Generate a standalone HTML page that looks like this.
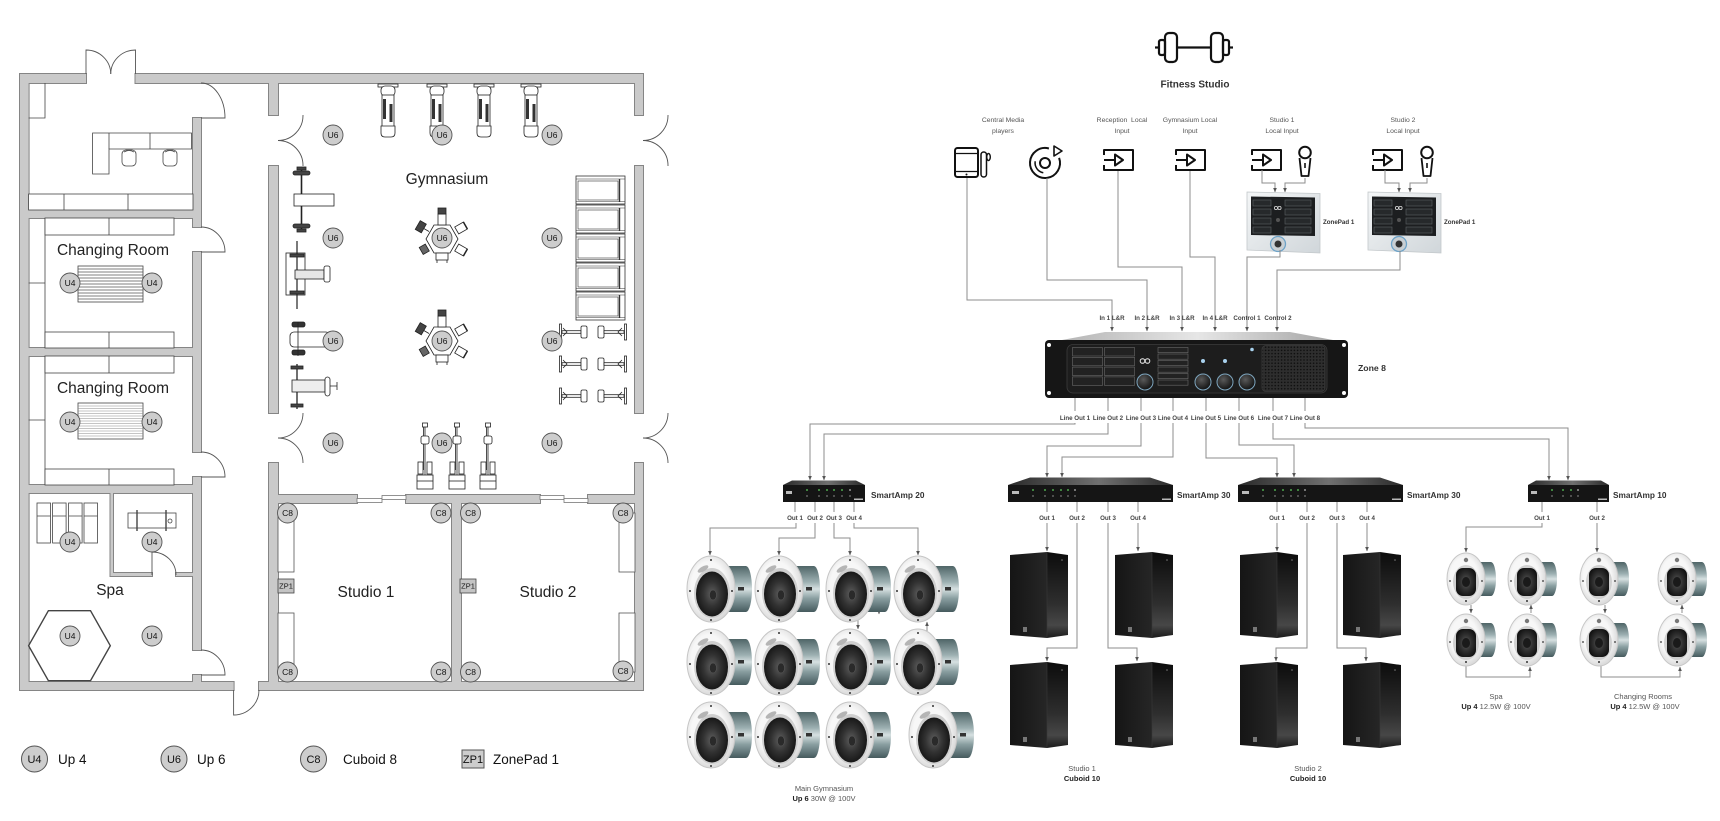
<!DOCTYPE html>
<html><head><meta charset="utf-8"><title>Fitness Studio</title>
<style>
html,body{margin:0;padding:0;background:#fff;width:1720px;height:821px;overflow:hidden}
svg{display:block}
text{font-family:"Liberation Sans",Arial,sans-serif}
</style></head><body>
<svg xmlns="http://www.w3.org/2000/svg" width="1720" height="821" viewBox="0 0 1720 821">
<defs>
<marker id="ah" viewBox="0 0 6 6" refX="5.5" refY="3" markerWidth="4.5" markerHeight="4.5" orient="auto" markerUnits="userSpaceOnUse"><path d="M0,0.5 L6,3 L0,5.5z" fill="#555"/></marker>
<linearGradient id="can" x1="0" y1="0" x2="0" y2="1"><stop offset="0" stop-color="#4f6567"/><stop offset="0.35" stop-color="#9db0b2"/><stop offset="0.5" stop-color="#d6e0e1"/><stop offset="0.7" stop-color="#8ba0a2"/><stop offset="1" stop-color="#465b5e"/></linearGradient>
<radialGradient id="face" cx="0.45" cy="0.45" r="0.6"><stop offset="0.6" stop-color="#f7f7f7"/><stop offset="1" stop-color="#d2d2d2"/></radialGradient>
<radialGradient id="cone" cx="0.5" cy="0.5" r="0.55"><stop offset="0" stop-color="#5e5e5e"/><stop offset="0.5" stop-color="#323232"/><stop offset="1" stop-color="#121212"/></radialGradient>
<linearGradient id="side" x1="0" y1="0" x2="0" y2="1"><stop offset="0" stop-color="#0c0c0c"/><stop offset="0.6" stop-color="#2e2e2e"/><stop offset="0.85" stop-color="#474747"/><stop offset="1" stop-color="#1a1a1a"/></linearGradient>
<linearGradient id="front" x1="0" y1="0" x2="1" y2="0"><stop offset="0" stop-color="#151515"/><stop offset="1" stop-color="#262626"/></linearGradient>
<linearGradient id="lid" x1="0" y1="0" x2="1" y2="0"><stop offset="0" stop-color="#b5b5b5"/><stop offset="0.5" stop-color="#e6e6e6"/><stop offset="1" stop-color="#a5a5a5"/></linearGradient>
<linearGradient id="lid2" x1="0" y1="0" x2="1" y2="0"><stop offset="0" stop-color="#2a2a2a"/><stop offset="0.55" stop-color="#707070"/><stop offset="1" stop-color="#2a2a2a"/></linearGradient>
<radialGradient id="knob" cx="0.4" cy="0.35" r="0.7"><stop offset="0" stop-color="#5a5a5a"/><stop offset="1" stop-color="#0d0d0d"/></radialGradient>
<linearGradient id="zp" x1="0" y1="0" x2="1" y2="1"><stop offset="0" stop-color="#f4f6f7"/><stop offset="1" stop-color="#d0d6da"/></linearGradient>
<pattern id="grill" width="3.2" height="3.2" patternUnits="userSpaceOnUse"><rect width="3.2" height="3.2" fill="#2e2e2e"/><circle cx="1.6" cy="1.6" r="0.8" fill="#0e0e0e"/></pattern>

<g id="bs">
 <path d="M6,-23 H35 A6,23 0 0 1 35,23 H6 Z" fill="url(#can)"/>
 <ellipse rx="24" ry="33" fill="url(#face)" stroke="#c6c6c6" stroke-width="1"/>
 <ellipse cx="1" cy="4" rx="18" ry="25" fill="#cfcfcf"/>
 <ellipse cx="1" cy="5" rx="16" ry="22.5" fill="url(#cone)"/>
 <ellipse cx="2" cy="6" rx="3.5" ry="5" fill="#2a2a2a" stroke="#5a5a5a" stroke-width="0.5"/>
 <ellipse cx="-8" cy="-20" rx="6" ry="2.5" fill="#b5b5b5" transform="rotate(-30 -8 -20)"/>
 <circle cx="0" cy="-29" r="1" fill="#333"/><circle cx="0" cy="31" r="1" fill="#333"/>
 <circle cx="-21" cy="2" r="1" fill="#333"/><circle cx="21" cy="2" r="1" fill="#333"/>
 <rect x="27" y="-2" width="6" height="3.5" fill="#333"/>
</g>
<g id="ss">
 <path d="M4,-17 H25 A5,17 0 0 1 25,17 H4 Z" fill="url(#can)"/>
 <ellipse rx="19" ry="26" fill="url(#face)" stroke="#c6c6c6" stroke-width="1"/>
 <ellipse cx="0" cy="3" rx="13" ry="17" fill="#d0d0d0"/>
 <rect x="-10" y="-11" width="20" height="28" rx="7" fill="url(#cone)"/>
 <ellipse cx="0" cy="3" rx="4" ry="5" fill="#1a1a1a"/>
 <circle cx="0" cy="-19" r="2.2" fill="#777"/>
 <circle cx="0" cy="22" r="1" fill="#333"/><circle cx="-16" cy="2" r="0.9" fill="#333"/><circle cx="16" cy="2" r="0.9" fill="#333"/>
</g>
<g id="cab">
 <polygon points="0,3 37,0 37,86 0,83" fill="url(#front)"/>
 <polygon points="37,0 58,3 58,83 37,86" fill="url(#side)"/>
 <line x1="37" y1="0" x2="37" y2="86" stroke="#3a3a3a" stroke-width="0.6"/>
 <rect x="13" y="75" width="4" height="5" fill="#777"/>
 <circle cx="52" cy="8" r="0.8" fill="#777"/>
</g>
<g id="zpd">
 <polygon points="0,0 73,1.5 73,61 0,58" fill="url(#zp)" stroke="#c3c8cb" stroke-width="0.8"/>
 <polygon points="4,4.5 68,5.5 68,44 4,43" fill="#1c1e20"/>
 <g fill="#26292b" stroke="#5c6166" stroke-width="0.6">
  <rect x="6" y="8" width="18" height="6"/><rect x="6" y="17" width="18" height="6"/><rect x="6" y="26" width="18" height="6"/><rect x="6" y="35" width="18" height="6"/>
  <rect x="38" y="8" width="26" height="6"/><rect x="38" y="17" width="26" height="6"/><rect x="38" y="26" width="26" height="6"/><rect x="38" y="35" width="26" height="6"/>
 </g>
 <circle cx="29" cy="16" r="1.6" fill="none" stroke="#ddd" stroke-width="0.8"/><circle cx="32.5" cy="16" r="1.6" fill="none" stroke="#ddd" stroke-width="0.8"/>
 <circle cx="31" cy="28" r="2" fill="#555"/>
 <circle cx="31" cy="52" r="7.5" fill="#c9cfd3" stroke="#6ea3c8" stroke-width="1.3"/>
 <circle cx="31" cy="52" r="3.5" fill="#333"/>
</g>
<g id="tm" fill="#fff" stroke="#222" stroke-width="0.8">
 <rect x="-10" y="84" width="20" height="3"/>
 <rect x="-7" y="86" width="14" height="10" rx="4"/>
 <rect x="-6" y="95" width="12" height="32"/>
 <rect x="-5" y="99" width="3" height="20" fill="#333" stroke="none"/>
 <rect x="1.5" y="104" width="3" height="18" fill="#333" stroke="none"/>
 <path d="M-7,126 h14 v7 q0,4 -4,4 h-6 q-4,0 -4,-4z"/>
</g>
<g id="rk">
 <rect x="576" y="0" width="49" height="28" fill="#fff" stroke="#333" stroke-width="0.8"/>
 <line x1="576" y1="3" x2="625" y2="3" stroke="#333" stroke-width="0.6"/>
 <rect x="578" y="5" width="40" height="19" fill="none" stroke="#333" stroke-width="0.6"/>
 <line x1="619.5" y1="3" x2="619.5" y2="26" stroke="#333" stroke-width="1.4"/>
 <line x1="576" y1="25.5" x2="625" y2="25.5" stroke="#333" stroke-width="0.6"/>
</g>
<g id="pe" fill="#fff" stroke="#222" stroke-width="0.8">
 <rect x="559.5" y="-8" width="2" height="16"/>
 <rect x="562" y="-1.3" width="19" height="2.6"/>
 <rect x="581" y="-6" width="6" height="12" rx="1.5"/>
 <rect x="598" y="-6" width="6" height="12" rx="1.5"/>
 <rect x="604" y="-1.3" width="20" height="2.6"/>
 <rect x="624.5" y="-8" width="2" height="16"/>
 <path d="M563,-4 l4,4 l-4,4 M622,-4 l-4,4 l4,4" fill="none"/>
</g>
<g id="bm" fill="#fff" stroke="#222" stroke-width="0.8">
 <rect x="-2.5" y="423" width="5" height="4"/>
 <line x1="0" y1="427" x2="0" y2="476"/>
 <line x1="-1.5" y1="427" x2="-1.5" y2="470"/>
 <rect x="-4" y="436" width="8" height="8" rx="2"/>
 <rect x="-7" y="462" width="5" height="12"/>
 <rect x="2" y="462" width="5" height="12"/>
 <rect x="-8" y="475" width="16" height="14"/>
 <line x1="-8" y1="481" x2="8" y2="481"/>
</g>
<g id="hx" stroke="#222" stroke-width="0.8" fill="#fff">
 <polygon points="-16,0 -8,-14 8,-14 16,0 8,14 -8,14"/>
 <rect x="-4" y="-25" width="8" height="11"/>
 <rect x="-4" y="-31" width="8" height="6" fill="#444"/>
 <g transform="rotate(60)"><rect x="-4" y="-27" width="8" height="10"/><line x1="-4" y1="-27" x2="4" y2="-27" stroke-width="1.5"/></g>
 <g transform="rotate(120)"><rect x="-4" y="-27" width="8" height="10"/><line x1="-4" y1="-27" x2="4" y2="-27" stroke-width="1.5"/></g>
 <g transform="rotate(-60)"><rect x="-5" y="-28" width="10" height="7" fill="#444"/><line x1="0" y1="-21" x2="0" y2="-15"/></g>
 <g transform="rotate(-120)"><rect x="-4" y="-24" width="8" height="7" fill="#666"/></g>
 <rect x="-6" y="14" width="12" height="7"/>
 <line x1="-5" y1="21" x2="-5" y2="24"/><line x1="5" y1="21" x2="5" y2="24"/>
</g>
<g id="walls">
 <rect x="20" y="74" width="66" height="9"/>
 <rect x="135.5" y="74" width="507.5" height="9"/>
 <rect x="20" y="74" width="8.6" height="616"/>
 <rect x="20" y="682" width="213.6" height="8"/>
 <rect x="259" y="682" width="384" height="8"/>
 <rect x="635" y="74" width="8" height="41"/>
 <rect x="635" y="166" width="8" height="247"/>
 <rect x="635" y="463" width="8" height="227"/>
 <rect x="193" y="118" width="8" height="109"/>
 <rect x="193" y="252" width="8" height="200"/>
 <rect x="193" y="477" width="8" height="173"/>
 <rect x="193" y="675" width="8" height="8"/>
 <rect x="28" y="210" width="166" height="8"/>
 <rect x="28" y="348" width="166" height="8"/>
 <rect x="28" y="485" width="166" height="8"/>
 <rect x="269" y="83" width="9" height="32"/>
 <rect x="269" y="166" width="9" height="247"/>
 <rect x="269" y="463" width="9" height="220"/>
 <rect x="277" y="495" width="80" height="8"/>
 <rect x="406" y="495" width="134" height="8"/>
 <rect x="588" y="495" width="48" height="8"/>
 <rect x="452" y="502" width="9" height="181"/>
 <rect x="110.5" y="493" width="2.5" height="83"/>
 <rect x="110.5" y="573" width="41.5" height="3"/>
 <rect x="176" y="573" width="18" height="3"/>
</g>
</defs>

<rect width="1720" height="821" fill="#fff"/>

<!-- ================= FLOOR PLAN ================= -->
<use href="#walls" fill="#858585" stroke="#858585" stroke-width="2"/>
<use href="#walls" fill="#cacaca"/>

<g fill="#fff" stroke="#777" stroke-width="0.8">
 <rect x="357" y="498.5" width="25" height="4"/><rect x="382" y="495.5" width="24" height="4"/>
 <rect x="540" y="495.5" width="24" height="4"/><rect x="564" y="498.5" width="24" height="4"/>
</g>

<g fill="none" stroke="#555" stroke-width="0.9">
 <path d="M86,74 V50 A24.75,24 0 0 1 110.75,74"/>
 <path d="M135.5,74 V50 A24.75,24 0 0 0 110.75,74"/>
 <path d="M201,118 H225 A24,35 0 0 0 201,83"/>
 <path d="M201,252 H225 A24,25 0 0 0 201,227"/>
 <path d="M201,477 H225 A24,25 0 0 0 201,452"/>
 <path d="M201,675 H225 A24,25 0 0 0 201,650"/>
 <path d="M233.6,690 V715 A25.4,25 0 0 0 259,690"/>
 <path d="M303,115 A25,25 0 0 1 278,140.5 A25,25 0 0 1 303,166"/>
 <path d="M303,413 A25,25 0 0 1 278,438 A25,25 0 0 1 303,463"/>
 <path d="M668,115 A25,25 0 0 1 643,140.5 A25,25 0 0 1 668,166"/>
 <path d="M668,413 A25,25 0 0 1 643,438 A25,25 0 0 1 668,463"/>
 <path d="M152,552 V575 M152,552 A24,23 0 0 1 176,575"/>
</g>

<g fill="#fff" stroke="#444" stroke-width="0.8">
 <path d="M45,83 V118 H28.6" fill="none"/>
 <path d="M92.6,133 H191.5 V149 H109 V174 H92.6 Z"/>
 <line x1="109" y1="133" x2="109" y2="149"/><line x1="150" y1="133" x2="150" y2="149"/>
 <rect x="122" y="150" width="14" height="16" rx="4"/><path d="M124,152 q5,-3 10,0" fill="none"/>
 <rect x="163" y="150" width="14" height="16" rx="4"/><path d="M165,152 q5,-3 10,0" fill="none"/>
 <rect x="28.6" y="194" width="164.4" height="16"/>
 <line x1="64" y1="194" x2="64" y2="210"/><line x1="128" y1="194" x2="128" y2="210"/>
</g>

<g fill="#fff" stroke="#444" stroke-width="0.8">
 <path d="M45,218 V348 M28.6,283 H45 M45,356 V485 M28.6,420 H45" fill="none"/>
 <rect x="45" y="218" width="129" height="17"/><line x1="109" y1="218" x2="109" y2="235"/>
 <rect x="45" y="332" width="129" height="16"/><line x1="109" y1="332" x2="109" y2="348"/>
 <rect x="45" y="356" width="129" height="17"/><line x1="109" y1="356" x2="109" y2="373"/>
 <rect x="45" y="469" width="129" height="16"/><line x1="109" y1="469" x2="109" y2="485"/>
 <rect x="78" y="266" width="65" height="36"/>
 <rect x="78" y="403" width="65" height="36"/>
</g>
<g stroke="#555" stroke-width="0.7">
 <path d="M78,269 H143 M78,272 H143 M78,275 H143 M78,278 H143 M78,281 H143 M78,284 H143 M78,287 H143 M78,290 H143 M78,293 H143 M78,296 H143 M78,299 H143"/>
</g>
<g stroke="#8a8a8a" stroke-width="0.6">
 <path d="M78,406 H143 M78,408.5 H143 M78,411 H143 M78,413.5 H143 M78,416 H143 M78,418.5 H143 M78,421 H143 M78,423.5 H143 M78,426 H143 M78,428.5 H143 M78,431 H143 M78,433.5 H143 M78,436 H143"/>
</g>
<text x="113" y="255" font-size="15.5" text-anchor="middle" fill="#222">Changing Room</text>
<text x="113" y="393" font-size="15.5" text-anchor="middle" fill="#222">Changing Room</text>

<g fill="#fff" stroke="#444" stroke-width="0.8">
 <rect x="37" y="503" width="13.5" height="40"/><rect x="52.6" y="503" width="13.5" height="40"/>
 <rect x="68.6" y="503" width="13.5" height="40"/><rect x="84" y="503" width="13.5" height="40"/>
 <path d="M37,516 H50.5 M52.6,516 H66 M68.6,516 H82 M84,516 H97.5" fill="none"/>
 <rect x="128" y="513" width="48" height="15"/>
 <path d="M137,510 V531 M166,510 V531" fill="none" stroke-width="1.4"/>
 <circle cx="170" cy="521" r="2"/>
</g>
<polygon points="28.6,645.7 48.4,610.7 90.5,610.7 110.3,645.7 90.5,680.7 48.4,680.7" fill="none" stroke="#444" stroke-width="1.4"/>
<text x="110" y="595" font-size="15.5" text-anchor="middle" fill="#222">Spa</text>

<use href="#tm" transform="translate(388,0)"/>
<use href="#tm" transform="translate(437,0)"/>
<use href="#tm" transform="translate(484,0)"/>
<use href="#tm" transform="translate(531,0)"/>
<use href="#rk" transform="translate(0,176)"/>
<use href="#rk" transform="translate(0,205)"/>
<use href="#rk" transform="translate(0,234)"/>
<use href="#rk" transform="translate(0,263)"/>
<use href="#rk" transform="translate(0,292)"/>
<use href="#pe" transform="translate(0,332)"/>
<use href="#pe" transform="translate(0,364)"/>
<use href="#pe" transform="translate(0,396)"/>
<use href="#bm" transform="translate(425,0)"/>
<use href="#bm" transform="translate(457,0)"/>
<use href="#bm" transform="translate(488,0)"/>
<use href="#hx" transform="translate(442,239)"/>
<use href="#hx" transform="translate(442,341)"/>
<g stroke="#222" stroke-width="0.8" fill="#fff">
 <line x1="301.5" y1="168" x2="301.5" y2="231" stroke-width="1.6"/>
 <rect x="293" y="171" width="17" height="4" rx="2" fill="#444"/><rect x="297" y="167" width="9" height="3" fill="#444"/>
 <rect x="293" y="224" width="17" height="4" rx="2" fill="#444"/><rect x="297" y="229" width="9" height="3" fill="#444"/>
 <rect x="294" y="194" width="40" height="12"/>
 <line x1="297" y1="241" x2="297" y2="309" stroke-width="1.2"/>
 <rect x="286" y="253" width="19" height="42" fill="none"/>
 <rect x="290" y="254" width="14" height="3" fill="#444"/><rect x="290" y="291" width="14" height="3" fill="#444"/>
 <rect x="295" y="270" width="29" height="9" fill="#e6e6e6"/>
 <rect x="324" y="266" width="6" height="16" rx="2"/>
 <rect x="290" y="332" width="40" height="15" rx="4"/>
 <rect x="292" y="322" width="13" height="5" rx="2" fill="#333"/><rect x="292" y="350" width="13" height="5" rx="2" fill="#333"/>
 <line x1="298" y1="322" x2="298" y2="356"/>
 <line x1="297" y1="364" x2="297" y2="409" stroke-width="1.3"/>
 <rect x="291" y="366" width="12" height="3" fill="#444"/><rect x="291" y="404" width="12" height="3" fill="#444"/>
 <rect x="292" y="380" width="33" height="12" fill="#eee"/>
 <rect x="325" y="377" width="5" height="19" rx="2.5"/>
 <path d="M330,386 H337 M337,382 V390" fill="none"/>
</g>
<text x="447" y="184" font-size="15.5" text-anchor="middle" fill="#222">Gymnasium</text>

<g fill="#fff" stroke="#555" stroke-width="0.8">
 <rect x="278" y="513" width="16" height="59"/><rect x="278" y="613" width="16" height="59"/>
 <rect x="619" y="513" width="16" height="59"/><rect x="619" y="613" width="16" height="59"/>
</g>
<g fill="#c4c4c4" stroke="#444" stroke-width="0.8">
 <rect x="278" y="579" width="16" height="14"/><rect x="460" y="579" width="16" height="14"/>
</g>
<g font-size="7.5" text-anchor="middle" fill="#111"><text x="286" y="588.5">ZP1</text><text x="468" y="588.5">ZP1</text></g>
<text x="366" y="597" font-size="15.5" text-anchor="middle" fill="#222">Studio 1</text>
<text x="548" y="597" font-size="15.5" text-anchor="middle" fill="#222">Studio 2</text>

<g fill="#cdcdcd" stroke="#555" stroke-width="0.9">
 <circle cx="333" cy="135" r="10"/><circle cx="442" cy="135" r="10"/><circle cx="552" cy="135" r="10"/>
 <circle cx="333" cy="238" r="10"/><circle cx="442" cy="238" r="10"/><circle cx="552" cy="238" r="10"/>
 <circle cx="333" cy="341" r="10"/><circle cx="442" cy="341" r="10"/><circle cx="552" cy="341" r="10"/>
 <circle cx="333" cy="443" r="10"/><circle cx="442" cy="443" r="10"/><circle cx="552" cy="443" r="10"/>
 <circle cx="70" cy="283" r="10"/><circle cx="152" cy="283" r="10"/>
 <circle cx="70" cy="422" r="10"/><circle cx="152" cy="422" r="10"/>
 <circle cx="70" cy="542" r="10"/><circle cx="152" cy="542" r="10"/>
 <circle cx="70" cy="636" r="10"/><circle cx="152" cy="636" r="10"/>
 <circle cx="287.5" cy="513" r="10"/><circle cx="441" cy="513" r="10"/>
 <circle cx="287.5" cy="672" r="10"/><circle cx="441" cy="672" r="10"/>
 <circle cx="470.5" cy="513" r="10"/><circle cx="623" cy="513" r="10"/>
 <circle cx="470.5" cy="672" r="10"/><circle cx="623" cy="671" r="10"/>
</g>
<g font-size="8.5" text-anchor="middle" fill="#111">
 <text x="333" y="138">U6</text><text x="442" y="138">U6</text><text x="552" y="138">U6</text>
 <text x="333" y="241">U6</text><text x="442" y="241">U6</text><text x="552" y="241">U6</text>
 <text x="333" y="344">U6</text><text x="442" y="344">U6</text><text x="552" y="344">U6</text>
 <text x="333" y="446">U6</text><text x="442" y="446">U6</text><text x="552" y="446">U6</text>
 <text x="70" y="286">U4</text><text x="152" y="286">U4</text>
 <text x="70" y="425">U4</text><text x="152" y="425">U4</text>
 <text x="70" y="545">U4</text><text x="152" y="545">U4</text>
 <text x="70" y="639">U4</text><text x="152" y="639">U4</text>
 <text x="287.5" y="516">C8</text><text x="441" y="516">C8</text>
 <text x="287.5" y="675">C8</text><text x="441" y="675">C8</text>
 <text x="470.5" y="516">C8</text><text x="623" y="516">C8</text>
 <text x="470.5" y="675">C8</text><text x="623" y="674">C8</text>
</g>

<g fill="#cdcdcd" stroke="#555" stroke-width="1">
 <circle cx="34.5" cy="759" r="13"/><circle cx="174" cy="759" r="13"/><circle cx="313.5" cy="759" r="13"/>
 <rect x="462" y="750" width="22" height="18"/>
</g>
<g font-size="11" text-anchor="middle" fill="#111">
 <text x="34.5" y="763">U4</text><text x="174" y="763">U6</text><text x="313.5" y="763">C8</text><text x="473" y="763">ZP1</text>
</g>
<g font-size="13.5" fill="#111">
 <text x="58" y="764">Up 4</text><text x="197" y="764">Up 6</text><text x="343" y="764">Cuboid 8</text><text x="493" y="764">ZonePad 1</text>
</g>

<!-- ================= SYSTEM DIAGRAM ================= -->
<g fill="none" stroke="#111" stroke-width="2.2" stroke-linejoin="round">
 <line x1="1177" y1="47.5" x2="1211" y2="47.5"/>
 <rect x="1165" y="33" width="12" height="29" rx="4"/>
 <rect x="1211" y="33" width="12" height="29" rx="4"/>
 <rect x="1159" y="40" width="6" height="15" rx="2"/>
 <rect x="1223" y="40" width="6" height="15" rx="2"/>
 <line x1="1155" y1="47.5" x2="1159" y2="47.5"/>
 <line x1="1229" y1="47.5" x2="1233" y2="47.5"/>
</g>
<text x="1195" y="87.5" font-size="10" font-weight="bold" text-anchor="middle" fill="#333">Fitness Studio</text>

<g font-size="6.8" text-anchor="middle" fill="#555">
 <text x="1003" y="122">Central Media</text><text x="1003" y="133">players</text>
 <text x="1122" y="122">Reception&#160; Local</text><text x="1122" y="133">Input</text>
 <text x="1190" y="122">Gymnasium Local</text><text x="1190" y="133">Input</text>
 <text x="1282" y="122">Studio 1</text><text x="1282" y="133">Local Input</text>
 <text x="1403" y="122">Studio 2</text><text x="1403" y="133">Local Input</text>
</g>

<g fill="none" stroke="#111" stroke-width="2" stroke-linejoin="round">
 <rect x="955" y="148" width="23" height="29" rx="2.5"/>
 <line x1="955" y1="153.5" x2="978" y2="153.5" stroke-width="1.2"/>
 <line x1="955" y1="171.5" x2="978" y2="171.5" stroke-width="1.2"/>
 <rect x="981" y="152" width="5.5" height="25" rx="2.7" stroke-width="1.5"/>
 <ellipse cx="988.5" cy="157" rx="1.8" ry="3.5" stroke-width="1.4"/>
 <path d="M1059.1,157.9 A15,15 0 1 1 1048.9,148.5"/>
 <circle cx="1045" cy="163" r="5"/>
 <path d="M1043.3,172.8 A10,10 0 0 1 1035.2,161.3" stroke-width="1.5"/>
 <path d="M1054,146 L1062,151 L1054,156 Z" stroke-width="1.6"/>
 <path d="M1104,155 V150 H1133 V170 H1104 V165 M1104,160 H1115 M1115,154.5 L1123,160 L1115,165.5 Z"/>
 <path d="M1176,155 V150 H1205 V170 H1176 V165 M1176,160 H1187 M1187,154.5 L1195,160 L1187,165.5 Z"/>
 <path d="M1252,155 V150 H1281 V170 H1252 V165 M1252,160 H1263 M1263,154.5 L1271,160 L1263,165.5 Z"/>
 <path d="M1373,155 V150 H1402 V170 H1373 V165 M1373,160 H1384 M1384,154.5 L1392,160 L1384,165.5 Z"/>
 <circle cx="1305" cy="152.5" r="5.8"/>
 <path d="M1299.5,158 L1301.5,176 H1308.5 L1310.5,158" stroke-width="1.8"/>
 <line x1="1305" y1="163" x2="1305" y2="168" stroke-width="1.6"/>
 <circle cx="1427" cy="152.5" r="5.8"/>
 <path d="M1421.5,158 L1423.5,176 H1430.5 L1432.5,158" stroke-width="1.8"/>
 <line x1="1427" y1="163" x2="1427" y2="168" stroke-width="1.6"/>
</g>
<circle cx="966.5" cy="174.5" r="1" fill="#111"/>

<use href="#zpd" transform="translate(1247,192)"/>
<use href="#zpd" transform="translate(1368,192)"/>
<g font-size="6.2" font-weight="bold" fill="#333">
 <text x="1323" y="224">ZonePad 1</text><text x="1444" y="224">ZonePad 1</text>
</g>

<g fill="none" stroke="#8d8d8d" stroke-width="1" marker-end="url(#ah)">
 <path d="M1262,170 V183 H1275 V192"/>
 <path d="M1305,178 V183 H1285 V192"/>
 <path d="M1385,170 V183 H1399 V192"/>
 <path d="M1427,178 V183 H1410 V192"/>
 <path d="M967,178 V300 H1112 V331"/>
 <path d="M1047,178 V280 H1147 V331"/>
 <path d="M1118,171 V267 H1182 V331"/>
 <path d="M1190,171 V257 H1215 V331"/>
 <path d="M1280,250 V257 H1247 V331"/>
 <path d="M1400,251 V270 H1277 V331"/>
 <path d="M1075,423 V424 H810 V480"/>
 <path d="M1108,423 V434 H824 V480"/>
 <path d="M1141,423 V446 H1047 V477"/>
 <path d="M1173,423 V457 H1062 V477"/>
 <path d="M1206,423 V458 H1277 V477"/>
 <path d="M1239,423 V445 H1294 V477"/>
 <path d="M1273,423 V439 H1549 V480"/>
 <path d="M1305,423 V428 H1568 V480"/>
 <path d="M796,523 V528 H710 V555"/>
 <path d="M815,523 V538 H779 V555"/>
 <path d="M834,523 V538 H850 V555"/>
 <path d="M854,523 V528 H918 V555"/>
 <path d="M1047,523 V551"/>
 <path d="M1138,523 V551"/>
 <path d="M1077,523 V648 H1047 V661"/>
 <path d="M1108,523 V648 H1137 V661"/>
 <path d="M1277,523 V551"/>
 <path d="M1367,523 V551"/>
 <path d="M1307,523 V648 H1276 V661"/>
 <path d="M1337,523 V648 H1366 V661"/>
 <path d="M1542,523 V527 H1466 V552"/>
 <path d="M1597,523 V552"/>
 <path d="M858,620 V629"/>
 <path d="M879,608 V614"/>
 <path d="M927,633 V622"/>
 <path d="M1471,605 V613"/>
 <path d="M1531,613 V605"/>
 <path d="M1466,666 V677 H1530 V667"/>
 <path d="M1605,605 V613"/>
 <path d="M1682,613 V605"/>
 <path d="M1601,666 V677 H1680 V667"/>
</g>
<g fill="none" stroke="#8d8d8d" stroke-width="1">
 <path d="M1075,398 V411 M1108,398 V411 M1141,398 V411 M1173,398 V411 M1206,398 V411 M1239,398 V411 M1273,398 V411 M1305,398 V411"/>
 <path d="M795,502 V512 M815,502 V512 M834,502 V512 M854,502 V512"/>
 <path d="M1047,502 V512 M1077,502 V512 M1108,502 V512 M1138,502 V512"/>
 <path d="M1277,502 V512 M1307,502 V512 M1337,502 V512 M1367,502 V512"/>
 <path d="M1542,502 V512 M1597,502 V512"/>
</g>

<g font-size="6.2" font-weight="bold" text-anchor="middle" fill="#444">
 <text x="1112" y="320">In 1 L&amp;R</text><text x="1147" y="320">In 2 L&amp;R</text>
 <text x="1182" y="320">In 3 L&amp;R</text><text x="1215" y="320">In 4 L&amp;R</text>
 <text x="1247" y="320">Control 1</text><text x="1278" y="320">Control 2</text>
 <text x="1075" y="420">Line Out 1</text><text x="1108" y="420">Line Out 2</text>
 <text x="1141" y="420">Line Out 3</text><text x="1173" y="420">Line Out 4</text>
 <text x="1206" y="420">Line Out 5</text><text x="1239" y="420">Line Out 6</text>
 <text x="1273" y="420">Line Out 7</text><text x="1305" y="420">Line Out 8</text>
 <text x="795" y="520">Out 1</text><text x="815" y="520">Out 2</text><text x="834" y="520">Out 3</text><text x="854" y="520">Out 4</text>
 <text x="1047" y="520">Out 1</text><text x="1077" y="520">Out 2</text><text x="1108" y="520">Out 3</text><text x="1138" y="520">Out 4</text>
 <text x="1277" y="520">Out 1</text><text x="1307" y="520">Out 2</text><text x="1337" y="520">Out 3</text><text x="1367" y="520">Out 4</text>
 <text x="1542" y="520">Out 1</text><text x="1597" y="520">Out 2</text>
</g>

<polygon points="1062,340 1105,332 1290,332 1333,340" fill="url(#lid)"/>
<rect x="1045" y="340" width="303" height="58" rx="4" fill="#161616"/>
<g fill="#fff"><circle cx="1049" cy="345" r="2"/><circle cx="1049" cy="393" r="2"/><circle cx="1344" cy="345" r="2"/><circle cx="1344" cy="393" r="2"/></g>
<rect x="1067" y="344.5" width="260" height="48.5" rx="6" fill="#1d1d1d" stroke="#3c3c3c" stroke-width="0.8"/>
<g fill="#222" stroke="#6a6a6a" stroke-width="0.6">
 <rect x="1072.5" y="347.5" width="30" height="8.5"/><rect x="1104.5" y="347.5" width="30" height="8.5"/>
 <rect x="1072.5" y="357.3" width="30" height="8.5"/><rect x="1104.5" y="357.3" width="30" height="8.5"/>
 <rect x="1072.5" y="367.1" width="30" height="8.5"/><rect x="1104.5" y="367.1" width="30" height="8.5"/>
 <rect x="1072.5" y="376.9" width="30" height="8.5"/><rect x="1104.5" y="376.9" width="30" height="8.5"/>
 <rect x="1158" y="347.5" width="30" height="5.2"/><rect x="1158" y="354" width="30" height="5.2"/>
 <rect x="1158" y="360.5" width="30" height="5.2"/><rect x="1158" y="367" width="30" height="5.2"/>
 <rect x="1158" y="373.5" width="30" height="5.2"/><rect x="1158" y="380" width="30" height="5.2"/>
</g>
<circle cx="1142.5" cy="361" r="2.3" fill="none" stroke="#eee" stroke-width="1"/>
<circle cx="1147.5" cy="361" r="2.3" fill="none" stroke="#eee" stroke-width="1"/>
<g fill="url(#knob)" stroke="#7ea6bf" stroke-width="1">
 <circle cx="1145" cy="382" r="8"/><circle cx="1203" cy="382" r="8"/><circle cx="1225" cy="382" r="8"/><circle cx="1247" cy="382" r="8"/>
</g>
<g fill="#a9d2ee"><circle cx="1203" cy="361" r="2"/><circle cx="1225" cy="361" r="2"/><circle cx="1252" cy="349.5" r="1.8"/></g>
<rect x="1262" y="345.5" width="63" height="46" rx="4" fill="url(#grill)" stroke="#3a3a3a" stroke-width="0.8"/>
<text x="1358" y="371" font-size="8.7" font-weight="bold" fill="#333">Zone 8</text>

<polygon points="783,485 792,480.5 856,480.5 865,485" fill="url(#lid2)"/>
<rect x="783" y="485" width="82" height="17" fill="#151515"/>
<polygon points="1008,485 1030,477.5 1150,477.5 1173,485" fill="url(#lid2)"/>
<rect x="1008" y="485" width="165" height="17" fill="#151515"/>
<polygon points="1238,485 1260,477.5 1380,477.5 1403,485" fill="url(#lid2)"/>
<rect x="1238" y="485" width="165" height="17" fill="#151515"/>
<polygon points="1528,485 1536,480.5 1601,480.5 1609,485" fill="url(#lid2)"/>
<rect x="1528" y="485" width="81" height="17" fill="#151515"/>
<g fill="#5fd35f">
 <circle cx="807" cy="490" r="0.9"/><circle cx="819" cy="490" r="0.9"/><circle cx="827" cy="490" r="0.9"/><circle cx="834" cy="490" r="0.9"/><circle cx="842" cy="490" r="0.9"/>
 <circle cx="1033" cy="490" r="0.9"/><circle cx="1045" cy="490" r="0.9"/><circle cx="1053" cy="490" r="0.9"/><circle cx="1061" cy="490" r="0.9"/><circle cx="1068" cy="490" r="0.9"/>
 <circle cx="1263" cy="490" r="0.9"/><circle cx="1275" cy="490" r="0.9"/><circle cx="1283" cy="490" r="0.9"/><circle cx="1291" cy="490" r="0.9"/><circle cx="1298" cy="490" r="0.9"/>
 <circle cx="1552" cy="490" r="0.9"/><circle cx="1563" cy="490" r="0.9"/><circle cx="1571" cy="490" r="0.9"/>
</g>
<g fill="#bbb">
 <circle cx="850" cy="490" r="0.9"/><circle cx="1075" cy="490" r="0.9"/><circle cx="1305" cy="490" r="0.9"/><circle cx="1578" cy="490" r="0.9"/>
 <rect x="786" y="491" width="6" height="3"/><rect x="1012" y="491" width="7" height="3"/><rect x="1242" y="491" width="7" height="3"/><rect x="1531" y="491" width="6" height="3"/>
 <rect x="854" y="498.5" width="9" height="1.5"/><rect x="1162" y="498.5" width="9" height="1.5"/><rect x="1392" y="498.5" width="9" height="1.5"/><rect x="1598" y="498.5" width="9" height="1.5"/>
</g>
<g fill="#777">
 <circle cx="807" cy="496" r="0.9"/><circle cx="819" cy="496" r="0.9"/><circle cx="827" cy="496" r="0.9"/><circle cx="834" cy="496" r="0.9"/><circle cx="842" cy="496" r="0.9"/><circle cx="850" cy="496" r="0.9"/>
 <circle cx="1033" cy="496" r="0.9"/><circle cx="1045" cy="496" r="0.9"/><circle cx="1053" cy="496" r="0.9"/><circle cx="1061" cy="496" r="0.9"/><circle cx="1068" cy="496" r="0.9"/><circle cx="1075" cy="496" r="0.9"/>
 <circle cx="1263" cy="496" r="0.9"/><circle cx="1275" cy="496" r="0.9"/><circle cx="1283" cy="496" r="0.9"/><circle cx="1291" cy="496" r="0.9"/><circle cx="1298" cy="496" r="0.9"/><circle cx="1305" cy="496" r="0.9"/>
 <circle cx="1552" cy="496" r="0.9"/><circle cx="1563" cy="496" r="0.9"/><circle cx="1571" cy="496" r="0.9"/><circle cx="1578" cy="496" r="0.9"/>
</g>
<g font-size="8.3" font-weight="bold" fill="#333">
 <text x="871" y="498">SmartAmp 20</text>
 <text x="1177" y="498">SmartAmp 30</text>
 <text x="1407" y="498">SmartAmp 30</text>
 <text x="1613" y="498">SmartAmp 10</text>
</g>

<use href="#bs" transform="translate(711,589)"/><use href="#bs" transform="translate(779,589)"/>
<use href="#bs" transform="translate(850,589)"/><use href="#bs" transform="translate(918,589)"/>
<use href="#bs" transform="translate(711,662)"/><use href="#bs" transform="translate(779,662)"/>
<use href="#bs" transform="translate(850,662)"/><use href="#bs" transform="translate(918,662)"/>
<use href="#bs" transform="translate(711,735)"/><use href="#bs" transform="translate(779,735)"/>
<use href="#bs" transform="translate(850,735)"/><use href="#bs" transform="translate(933,735)"/>

<use href="#cab" transform="translate(1010,552)"/><use href="#cab" transform="translate(1115,552)"/>
<use href="#cab" transform="translate(1010,662)"/><use href="#cab" transform="translate(1115,662)"/>
<use href="#cab" transform="translate(1240,552)"/><use href="#cab" transform="translate(1343,552)"/>
<use href="#cab" transform="translate(1240,662)"/><use href="#cab" transform="translate(1343,662)"/>

<use href="#ss" transform="translate(1466,579)"/><use href="#ss" transform="translate(1527,579)"/>
<use href="#ss" transform="translate(1599,579)"/><use href="#ss" transform="translate(1677,579)"/>
<use href="#ss" transform="translate(1466,640)"/><use href="#ss" transform="translate(1527,640)"/>
<use href="#ss" transform="translate(1599,640)"/><use href="#ss" transform="translate(1677,640)"/>

<g font-size="7.5" text-anchor="middle" fill="#555">
 <text x="824" y="791">Main Gymnasium</text>
 <text x="824" y="801"><tspan font-weight="bold" fill="#222">Up 6</tspan> 30W @ 100V</text>
 <text x="1082" y="771">Studio 1</text>
 <text x="1082" y="781" font-weight="bold" fill="#222">Cuboid 10</text>
 <text x="1308" y="771">Studio 2</text>
 <text x="1308" y="781" font-weight="bold" fill="#222">Cuboid 10</text>
 <text x="1496" y="699">Spa</text>
 <text x="1496" y="709"><tspan font-weight="bold" fill="#222">Up 4</tspan> 12.5W @ 100V</text>
 <text x="1643" y="699">Changing Rooms</text>
 <text x="1645" y="709"><tspan font-weight="bold" fill="#222">Up 4</tspan> 12.5W @ 100V</text>
</g>
</svg>
</body></html>
